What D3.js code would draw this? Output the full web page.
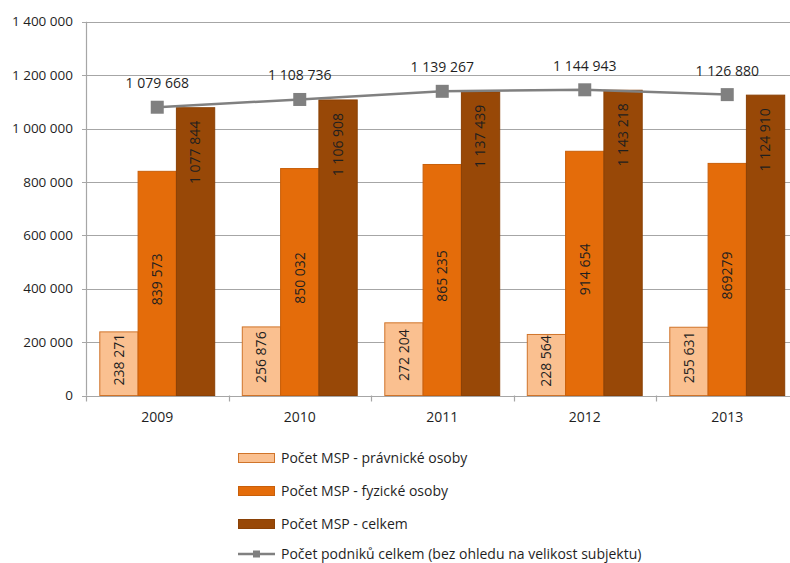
<!DOCTYPE html>
<html>
<head>
<meta charset="utf-8">
<script src="https://cdn.jsdelivr.net/npm/d3@7"></script>
<style>
  body { margin: 0; background: #fff; }
  text { font-family: "Open Sans", sans-serif; fill: #1f1f1f; }
</style>
</head>
<body>
<script>
var years = ["2009", "2010", "2011", "2012", "2013"];
var pravnicke = [238271, 256876, 272204, 228564, 255631];
var fyzicke = [839573, 850032, 865235, 914654, 869279];
var celkem = [1077844, 1106908, 1137439, 1143218, 1124910];
var podniky = [1079668, 1108736, 1139267, 1144943, 1126880];
var yTicks = [0, 200000, 400000, 600000, 800000, 1000000, 1200000, 1400000];
var seriesNames = [
  "Počet MSP - právnické osoby",
  "Počet MSP - fyzické osoby",
  "Počet MSP - celkem",
  "Počet podniků celkem (bez ohledu na velikost subjektu)"
];

var width = 790;
var height = 563;

var fmt = function(v) { return d3.format(",")(v).replace(/,/g, " "); };

var svg = d3.select("body")
  .append("svg")
  .attr("width", width)
  .attr("height", height);

var x = d3.scaleBand()
  .domain(years)
  .range([86, 798.5]);

var xInner = d3.scaleBand()
  .domain([0, 1, 2])
  .range([0, x.bandwidth()])
  .paddingOuter(0.36);

var y = d3.scaleLinear()
  .domain([0, 1400000])
  .range([395.5, 21.7]);

// grid lines
svg.selectAll("line.grid")
  .data(yTicks)
  .enter()
  .append("line")
  .attr("class", "grid")
  .attr("x1", 82)
  .attr("x2", width)
  .attr("y1", function(d) { return Math.round(y(d)) + 0.5; })
  .attr("y2", function(d) { return Math.round(y(d)) + 0.5; })
  .attr("stroke", "#a6a6a6")
  .attr("stroke-width", 1.2);

// y axis line
svg.append("line")
  .attr("x1", 86.5).attr("x2", 86.5)
  .attr("y1", y(1400000)).attr("y2", y(0))
  .attr("stroke", "#a6a6a6")
  .attr("stroke-width", 1.2);

// y labels
svg.selectAll("text.ytick")
  .data(yTicks)
  .enter()
  .append("text")
  .attr("class", "ytick")
  .attr("x", 73)
  .attr("y", function(d) { return y(d); })
  .attr("dy", "0.35em")
  .attr("text-anchor", "end")
  .attr("font-size", "13.5px")
  .text(fmt);

// x tick marks at category boundaries
svg.selectAll("line.xtick")
  .data(years)
  .enter()
  .append("line")
  .attr("class", "xtick")
  .attr("x1", function(d) { return Math.round(x(d)) + 0.5; })
  .attr("x2", function(d) { return Math.round(x(d)) + 0.5; })
  .attr("y1", y(0))
  .attr("y2", y(0) + 6)
  .attr("stroke", "#a6a6a6")
  .attr("stroke-width", 1.2);

svg.selectAll("text.xlabel")
  .data(years)
  .enter()
  .append("text")
  .attr("class", "xlabel")
  .attr("x", function(d) { return x(d) + x.bandwidth() / 2; })
  .attr("y", 417)
  .attr("dy", "0.35em")
  .attr("text-anchor", "middle")
  .attr("font-size", "14px")
  .text(function(d) { return d; });

// bars
var fills = ["#fac090", "#e46c0a", "#984807"];
var strokes = ["#d0742a", "#c85f0a", "#8a4106"];
var series = [pravnicke, fyzicke, celkem];

series.forEach(function(vals, s) {
  var g = svg.append("g");
  g.selectAll("rect")
    .data(vals)
    .enter()
    .append("rect")
    .attr("x", function(d, i) { return x(years[i]) + xInner(s); })
    .attr("y", function(d) { return y(d); })
    .attr("width", xInner.bandwidth())
    .attr("height", function(d) { return y(0) - y(d); })
    .attr("fill", fills[s])
    .attr("stroke", strokes[s])
    .attr("stroke-width", 1);

  g.selectAll("text")
    .data(vals)
    .enter()
    .append("text")
    .attr("transform", function(d, i) {
      var cx = x(years[i]) + xInner(s) + xInner.bandwidth() / 2;
      var cy = s === 2 ? y(d) + 13 : (y(d) + y(0)) / 2 - 4;
      return "translate(" + cx + "," + cy + ") rotate(-90)";
    })
    .attr("dy", "0.35em")
    .attr("text-anchor", s === 2 ? "end" : "middle")
    .attr("font-size", "14px")
    .text(function(d, i) {
      // the 2013 value of the second series is printed without a space in the source
      if (s === 1 && i === 4) return String(d);
      return fmt(d);
    });
});

// line series
var line = d3.line()
  .x(function(d, i) { return x(years[i]) + x.bandwidth() / 2; })
  .y(function(d) { return y(d); });

svg.append("path")
  .datum(podniky)
  .attr("d", line)
  .attr("fill", "none")
  .attr("stroke", "#808080")
  .attr("stroke-width", 2.5);

svg.selectAll("rect.marker")
  .data(podniky)
  .enter()
  .append("rect")
  .attr("class", "marker")
  .attr("x", function(d, i) { return x(years[i]) + x.bandwidth() / 2 - 6.5; })
  .attr("y", function(d) { return y(d) - 6.5; })
  .attr("width", 13)
  .attr("height", 13)
  .attr("fill", "#808080");

svg.selectAll("text.linelabel")
  .data(podniky)
  .enter()
  .append("text")
  .attr("class", "linelabel")
  .attr("x", function(d, i) { return x(years[i]) + x.bandwidth() / 2; })
  .attr("y", function(d) { return y(d) - 24; })
  .attr("dy", "0.35em")
  .attr("text-anchor", "middle")
  .attr("font-size", "14px")
  .text(fmt);

// legend
var legendY = [458, 491, 524, 554];
var legend = svg.append("g");

[0, 1, 2].forEach(function(s) {
  legend.append("rect")
    .attr("x", 238.5)
    .attr("y", legendY[s] - 4.5)
    .attr("width", 36)
    .attr("height", 9)
    .attr("fill", fills[s])
    .attr("stroke", strokes[s])
    .attr("stroke-width", 1);
});

legend.append("line")
  .attr("x1", 238).attr("x2", 275)
  .attr("y1", legendY[3]).attr("y2", legendY[3])
  .attr("stroke", "#808080")
  .attr("stroke-width", 2.5);

legend.append("rect")
  .attr("x", 253).attr("y", legendY[3] - 3.5)
  .attr("width", 7).attr("height", 7)
  .attr("fill", "#808080");

legend.selectAll("text")
  .data(seriesNames)
  .enter()
  .append("text")
  .attr("x", 281)
  .attr("y", function(d, i) { return legendY[i]; })
  .attr("dy", "0.35em")
  .attr("font-size", "14px")
  .text(function(d) { return d; });
</script>
</body>
</html>
